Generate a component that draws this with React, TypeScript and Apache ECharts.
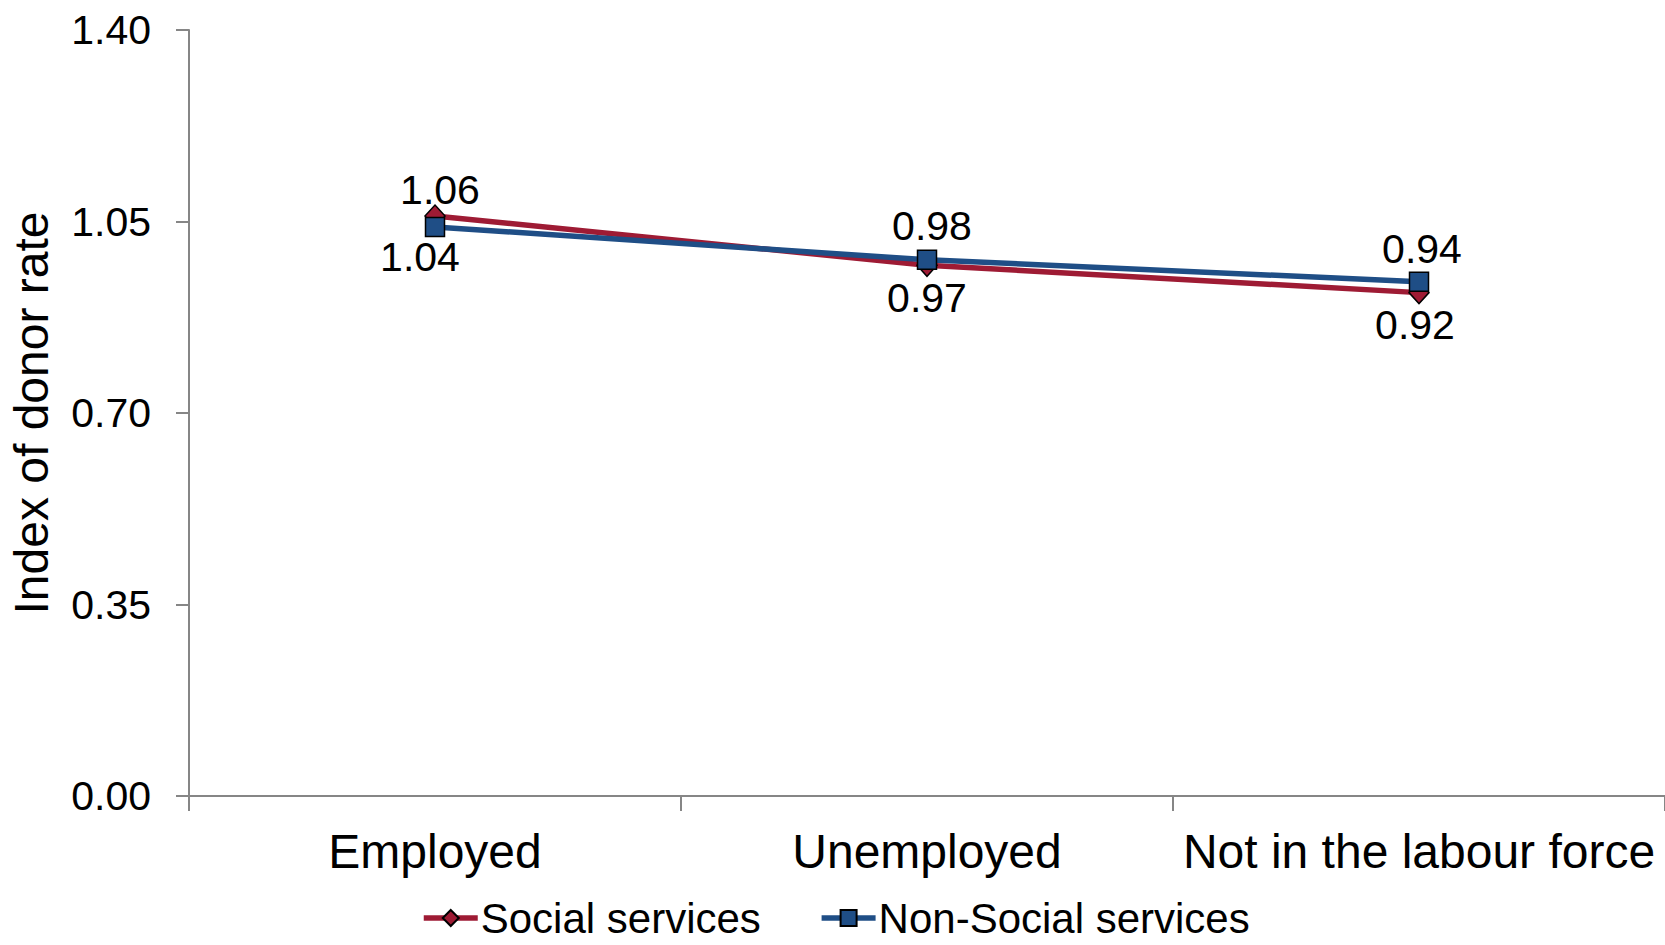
import React, { useEffect, useRef } from "react";
import * as echarts from "echarts";

const categories = ["Employed", "Unemployed", "Not in the labour force"];
const socialServices = [1.06, 0.97, 0.92];
const nonSocialServices = [1.04, 0.98, 0.94];
const seriesNames = ["Social services", "Non-Social services"];
const yTicks = { min: 0, max: 1.4, interval: 0.35 };

// label offsets (px) relative to each marker: above or below the point
const socialLabelOffsets = [
  [5, -26],
  [0, 33],
  [-4, 32],
];
const nonSocialLabelOffsets = [
  [-15, 30],
  [5, -34],
  [3, -33],
];

const FONT = "'Liberation Sans', Arial, Helvetica, sans-serif";
const RED = "#9E1B34";
const BLUE = "#1F4E86";
const AXIS = "#868686";

export default function App() {
  const ref = useRef<HTMLDivElement>(null);

  useEffect(() => {
    if (!ref.current) return;
    const chart = echarts.init(ref.current, undefined, { renderer: "svg" });

    const labelled = (values: number[], offsets: number[][]) =>
      values.map((v, i) => ({
        value: v,
        label: { offset: offsets[i] },
      }));

    const valueLabel = {
      show: true,
      position: "inside",
      fontFamily: FONT,
      fontSize: 41,
      color: "#000",
      formatter: (p: any) => Number(p.value).toFixed(2),
    };

    chart.setOption({
      animation: false,
      backgroundColor: "#ffffff",
      textStyle: { fontFamily: FONT },
      grid: {
        left: 189,
        right: 0,
        top: 30,
        bottom: 149,
        containLabel: false,
        outerBoundsMode: "none",
      },
      legend: {
        data: seriesNames,
        left: 421,
        top: 896,
        padding: 0,
        itemWidth: 54,
        itemHeight: 20,
        itemGap: 58,
        lineStyle: { width: 5.5 },
        textStyle: {
          fontFamily: FONT,
          fontSize: 42,
          lineHeight: 44,
          color: "#000",
          padding: [0, 0, 0, -2],
        },
      },
      xAxis: {
        type: "category",
        data: categories,
        boundaryGap: true,
        axisLine: { lineStyle: { color: AXIS, width: 2 } },
        axisTick: {
          show: true,
          length: 15,
          alignWithLabel: false,
          lineStyle: { color: AXIS, width: 2 },
        },
        axisLabel: { fontFamily: FONT, fontSize: 48, color: "#000", margin: 31, interval: 0 },
      },
      yAxis: {
        type: "value",
        min: yTicks.min,
        max: yTicks.max,
        interval: yTicks.interval,
        name: "Index of donor rate",
        nameLocation: "middle",
        nameGap: 134,
        nameRotate: 90,
        nameTextStyle: { fontFamily: FONT, fontSize: 48, color: "#000" },
        splitLine: { show: false },
        axisLine: { show: true, lineStyle: { color: AXIS, width: 2 } },
        axisTick: { show: true, length: 13, lineStyle: { color: AXIS, width: 2 } },
        axisLabel: {
          fontFamily: FONT,
          fontSize: 41,
          color: "#000",
          margin: 38,
          formatter: (v: number) => v.toFixed(2),
        },
      },
      series: [
        {
          name: seriesNames[0],
          type: "line",
          data: labelled(socialServices, socialLabelOffsets),
          symbol: "diamond",
          symbolSize: [20, 22],
          lineStyle: { color: RED, width: 5.5 },
          itemStyle: { color: RED, borderColor: "#000", borderWidth: 1.5 },
          label: valueLabel,
          z: 2,
        },
        {
          name: seriesNames[1],
          type: "line",
          data: labelled(nonSocialServices, nonSocialLabelOffsets),
          symbol: "rect",
          symbolSize: 19,
          lineStyle: { color: BLUE, width: 5.5 },
          itemStyle: { color: BLUE, borderColor: "#000", borderWidth: 1.5 },
          label: valueLabel,
          z: 3,
        },
      ],
    });

    return () => chart.dispose();
  }, []);

  return (
    <div
      ref={ref}
      style={{ position: "fixed", left: 0, top: 0, width: 1665, height: 945, background: "#fff" }}
    />
  );
}
